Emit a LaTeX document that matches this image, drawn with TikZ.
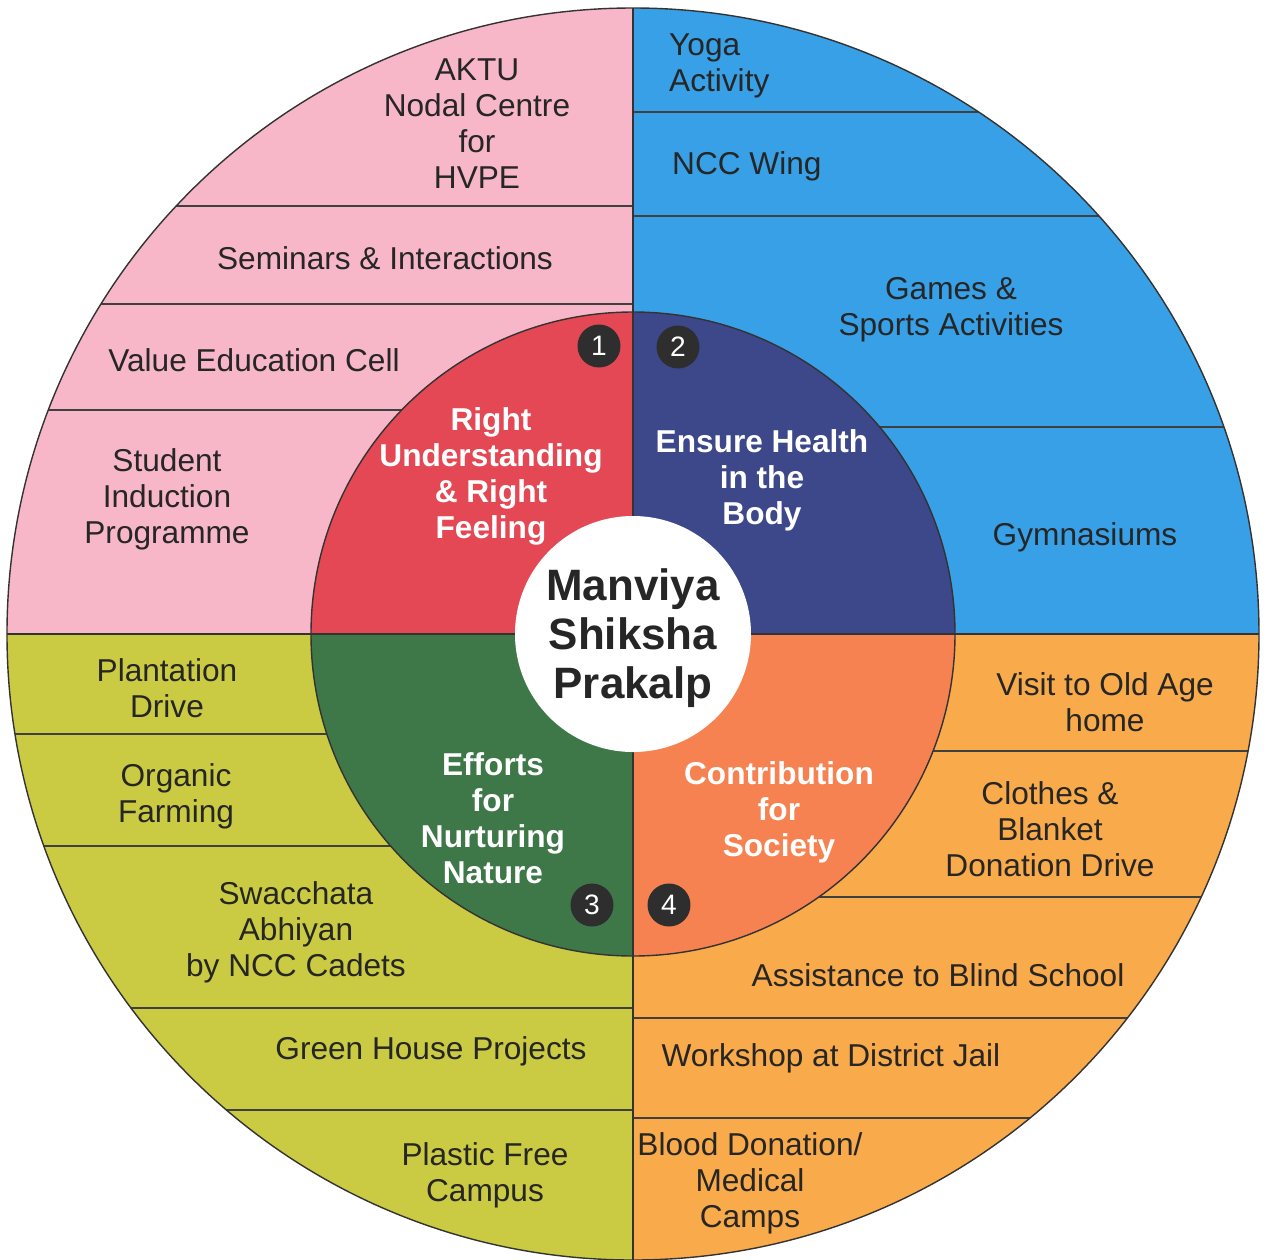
\documentclass[tikz,border=0pt]{standalone}
\usepackage{fontspec}
\setmainfont{Liberation Sans}

% colours of the quadrants
\definecolor{pinkq}{RGB}{247,183,201}
\definecolor{blueq}{RGB}{56,160,230}
\definecolor{oliveq}{RGB}{202,203,66}
\definecolor{orangeq}{RGB}{249,170,74}
\definecolor{redin}{RGB}{228,72,84}
\definecolor{navyin}{RGB}{60,72,138}
\definecolor{greenin}{RGB}{62,120,72}
\definecolor{coralin}{RGB}{246,130,82}
\definecolor{inkgray}{RGB}{38,38,38}

\tikzset{
  outer/.style={text=inkgray, align=center, font=\fontsize{18}{20.5}\selectfont},
  inner/.style={text=white, align=center, font=\bfseries\fontsize{18}{20.5}\selectfont},
  badge/.style={circle, fill=black!82, text=white, minimum size=0.86cm, inner sep=0pt, font=\fontsize{16}{16}\selectfont},
  ring/.style={draw=black!80, line width=0.8pt},
  band/.style={draw=black!75, line width=0.7pt}
}

\begin{document}
\begin{tikzpicture}[x=0.02cm,y=0.02cm]

    \useasboundingbox (-633,-625) rectangle (634,634);
    \fill[white] (-633,-625) rectangle (634,634);

    % Outer quadrants with their band lines
    \begin{scope}
        \clip (0,0) circle (626);
        \fill[pinkq] (0,0) rectangle (-630,630);
        \fill[blueq] (0,0) rectangle (630,630);
        \fill[oliveq] (0,0) rectangle (-630,-630);
        \fill[orangeq] (0,0) rectangle (630,-630);
        \foreach \y in {428,330,224} \draw[band] (-630,\y) -- (0,\y);
        \foreach \y in {522,418,207} \draw[band] (0,\y) -- (630,\y);
        \foreach \y in {-100,-212,-374,-476} \draw[band] (-630,\y) -- (0,\y);
        \foreach \y in {-117,-263,-384,-484} \draw[band] (0,\y) -- (630,\y);
    \end{scope}
    \draw[ring] (0,0) circle (626);

    % Inner quadrants
    \fill[redin] (0,0) -- (-322,0) arc (180:90:322) -- cycle;
    \fill[navyin] (0,0) -- (0,322) arc (90:0:322) -- cycle;
    \fill[coralin] (0,0) -- (322,0) arc (0:-90:322) -- cycle;
    \fill[greenin] (0,0) -- (0,-322) arc (-90:-180:322) -- cycle;
    \draw[ring] (0,0) circle (322);

    % Draw the vertical and horizontal lines
    \draw[ring] (0,-626) -- (0,626);
    \draw[ring] (-626,0) -- (626,0);

    % Centre
    \fill[white] (0,0) circle (118);
    \node[text=inkgray, align=center, font=\bfseries\fontsize{25}{28}\selectfont] (msp) at (0,-4) {Manviya\\Shiksha\\Prakalp};

    % Inner labels
    \node[inner] (ruf) at (-142,158) {Right\\Understanding\\\& Right\\Feeling};
    \node[inner] (ehb) at (129,154) {Ensure Health\\in the\\Body};
    \node[inner] (enn) at (-140,-184) {Efforts\\for\\Nurturing\\Nature};
    \node[inner] (cfs) at (146,-178) {Contribution\\for\\Society};

    % Number badges
    \node[badge] (b1) at (-34,288) {1};
    \node[badge] (b2) at (45,287) {2};
    \node[badge] (b3) at (-41,-271) {3};
    \node[badge] (b4) at (36,-271) {4};

    % Pink quadrant
    \node[outer] (aktu) at (-156,510) {AKTU\\Nodal Centre\\for\\HVPE};
    \node[outer] (semi) at (-248,376) {Seminars \& Interactions};
    \node[outer] (vec) at (-379,274) {Value Education Cell};
    \node[outer] (sip) at (-466,135) {Student\\Induction\\Programme};

    % Blue quadrant
    \node[outer, anchor=west, align=left] (yoga) at (30,568) {Yoga\\Activity};
    \node[outer, anchor=west, align=left] (ncc) at (33,468) {NCC Wing};
    \node[outer] (games) at (318,324) {Games \&\\Sports Activities};
    \node[outer] (gym) at (452,97) {Gymnasiums};

    % Olive quadrant
    \node[outer] (plant) at (-466,-54) {Plantation\\Drive};
    \node[outer] (organic) at (-457,-162) {Organic\\Farming};
    \node[outer] (swach) at (-337,-298) {Swacchata\\Abhiyan\\by NCC Cadets};
    \node[outer] (green) at (-202,-417) {Green House Projects};
    \node[outer] (plastic) at (-148,-541) {Plastic Free\\Campus};

    % Orange quadrant
    \node[outer] (oldage) at (472,-68) {Visit to Old Age\\home};
    \node[outer] (clothes) at (417,-195) {Clothes \&\\Blanket\\Donation Drive};
    \node[outer] (blind) at (305,-341) {Assistance to Blind School};
    \node[outer] (jail) at (198,-424) {Workshop at District Jail};
    \node[outer] (blood) at (117,-549) {Blood Donation/\\Medical\\Camps};

\end{tikzpicture}
\end{document}
